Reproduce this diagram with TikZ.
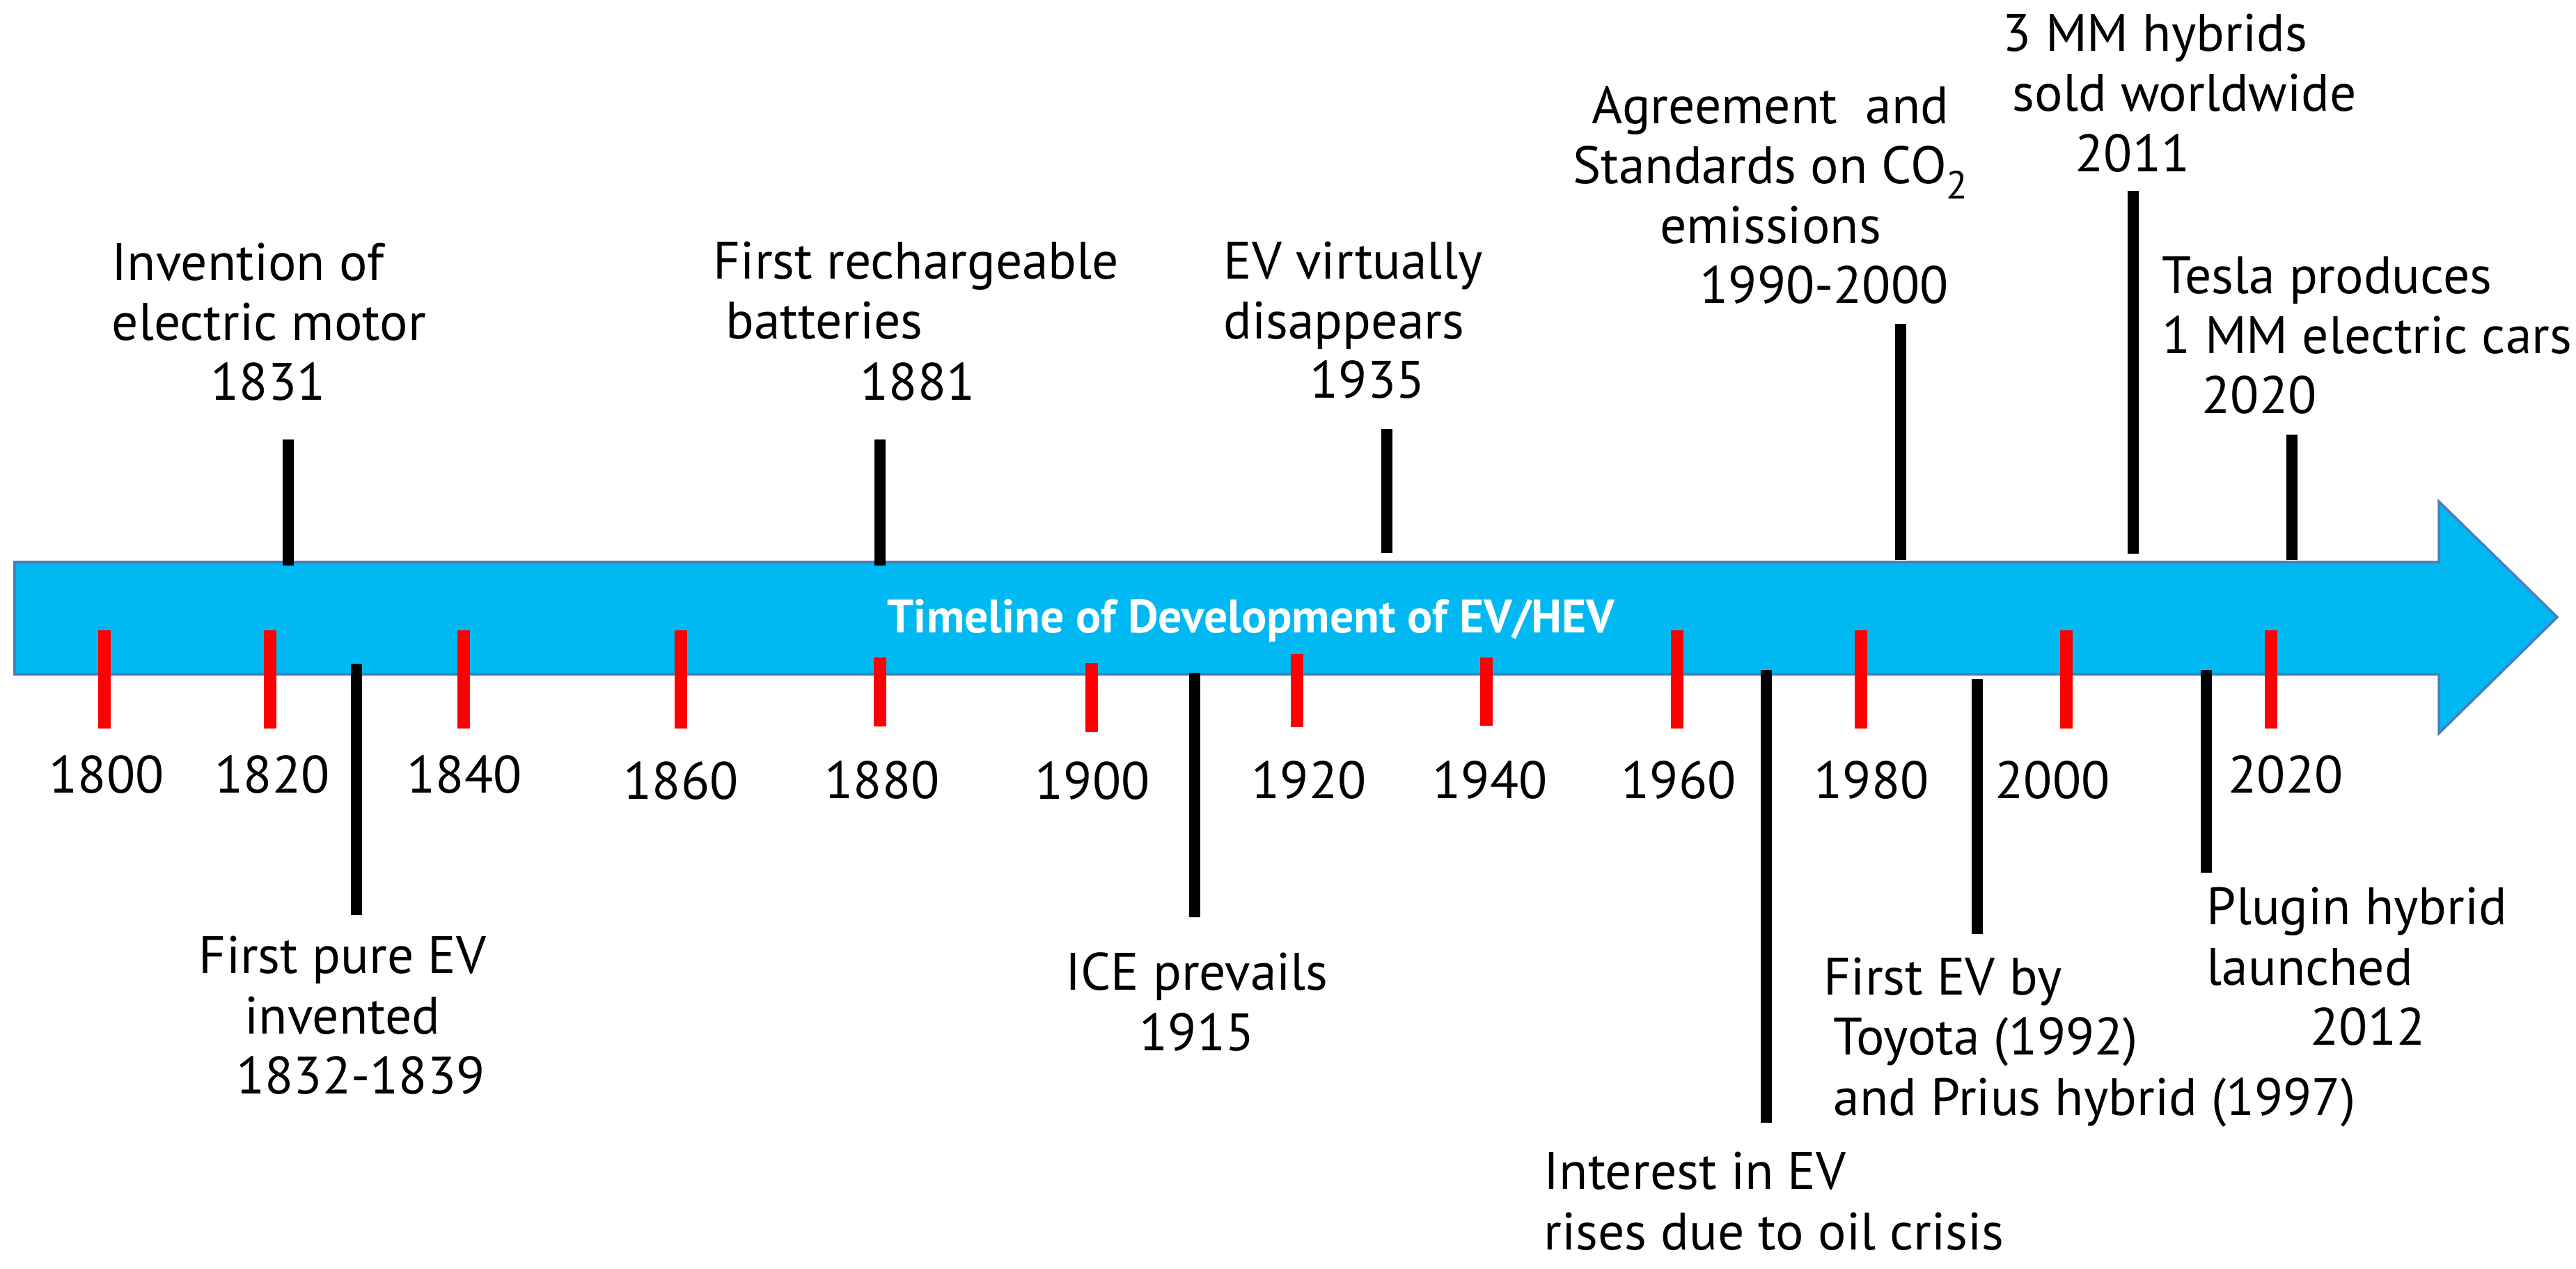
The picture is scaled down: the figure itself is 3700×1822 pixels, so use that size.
\documentclass[tikz,border=0pt]{standalone}
\usepackage{fontspec}
\setmainfont{PT Sans}
\definecolor{evblue}{HTML}{00B9F2}
\definecolor{evedge}{HTML}{4A7EBB}
\definecolor{tickred}{HTML}{FF0000}
\begin{document}
\begin{tikzpicture}[x=0.01cm,y=-0.01cm,
  lbl/.style={font=\fontsize{21.5}{24.5}\selectfont, inner sep=0pt, align=left},
  lblc/.style={font=\fontsize{21.5}{24.5}\selectfont, inner sep=0pt, align=center},
  yr/.style={font=\fontsize{21.5}{24.5}\selectfont, inner sep=0pt, anchor=base},
  ttl/.style={font=\fontsize{19.2}{21}\selectfont\bfseries, text=white, inner sep=0pt, anchor=base},
  redtick/.style={draw=tickred, line width=5pt},
  evline/.style={draw=black, line width=4.6pt}]
\useasboundingbox (0,0) rectangle (3700,1822);
\fill[white] (0,0) rectangle (3700,1822);
% arrow band
\path[fill=evblue, draw=evedge, line width=1pt]
  (21,807) -- (3503,807) -- (3503,720) -- (3673,886) -- (3503,1053) -- (3503,968) -- (21,968) -- cycle;
\node[ttl] (title) at (1797,908) {Timeline of Development of EV/HEV};
% red ticks
\foreach \n/\x/\a/\b in {1800/150/905/1046, 1820/388/905/1046, 1840/666/905/1046,
  1860/978/905/1046, 1880/1264/944/1043, 1900/1568/952/1051, 1920/1863/939/1044,
  1940/2135/944/1042, 1960/2409/905/1046, 1980/2673/905/1046, 2000/2968/905/1046,
  2020/3262/905/1046}{
  \coordinate (ta\n) at (\x,\a);
  \coordinate (tb\n) at (\x,\b);
  \draw[redtick] (ta\n) -- (tb\n);
}
% year axis labels
\node[yr] (y1800) at (153,1138) {1800};
\node[yr] (y1820) at (391,1138) {1820};
\node[yr] (y1840) at (667,1138) {1840};
\node[yr] (y1860) at (978,1147) {1860};
\node[yr] (y1880) at (1267,1146) {1880};
\node[yr] (y1900) at (1569,1147) {1900};
\node[yr] (y1920) at (1880,1146) {1920};
\node[yr] (y1940) at (2140,1146) {1940};
\node[yr] (y1960) at (2411,1146) {1960};
\node[yr] (y1980) at (2688,1146) {1980};
\node[yr] (y2000) at (2948,1146) {2000};
\node[yr] (y2020) at (3283,1138) {2020};
% event connectors
\foreach \n/\x/\a/\b in {e1831/414/812/631, e1881/1264/812/631, e1935/1992/794/616,
  e1990/2730/804/465, e2011/3064/795/274, e2020/3292/804/624,
  e1832/512/953/1314, e1915/1716/966/1317, eoil/2537/962/1612,
  etoy/2840/975/1341, eplug/3169/962/1253}{
  \coordinate (\n s) at (\x,\a);
  \coordinate (\n e) at (\x,\b);
  \draw[evline] (\n s) -- (\n e);
}
% event labels above (anchor = baseline of last line)
\node[lbl, anchor=base west] (l1831) at (160,489) {Invention of\\electric motor};
\node[yr] (d1831) at (385,575) {1831};
\node[lbl, anchor=base west] (l1881) at (1024,487) {First rechargeable\\\hspace*{5pt}batteries};
\node[yr] (d1881) at (1318,575) {1881};
\node[lbl, anchor=base west] (l1935) at (1757,487) {EV virtually\\disappears};
\node[yr] (d1935) at (1964,572) {1935};
\node[lblc, anchor=base] (l1990) at (2543,350) {Agreement\ \ and\\Standards on CO\raisebox{-0.28em}{\fontsize{16}{16}\selectfont 2}\\emissions};
\node[yr] (d1990) at (2620,436) {1990-2000};
\node[lbl, anchor=base west] (l2011) at (2876,160) {3 MM hybrids\\\hspace*{4pt}sold worldwide};
\node[yr] (d2011) at (3063,247) {2011};
\node[lbl, anchor=base west] (l2020) at (3105,508) {Tesla produces\\1 MM electric cars};
\node[yr] (d2020) at (3245,594) {2020};
% event labels below
\node[lblc, anchor=base] (l1832) at (492,1484) {First pure EV\\invented};
\node[yr] (d1832) at (518,1570) {1832-1839};
\node[lblc, anchor=base] (l1915) at (1719,1508) {ICE prevails\\1915};
\node[lbl, anchor=base west] (loil) at (2217,1794) {Interest in EV\\rises due to oil crisis};
\node[lbl, anchor=base west] (ltoy) at (2619,1601) {First EV by\\\hspace*{4pt}Toyota (1992)\\\hspace*{4pt}and Prius hybrid (1997)};
\node[lbl, anchor=base west] (lplug) at (3169,1414) {Plugin hybrid\\launched};
\node[yr] (d2012) at (3401,1500) {2012};
\end{tikzpicture}
\end{document}
